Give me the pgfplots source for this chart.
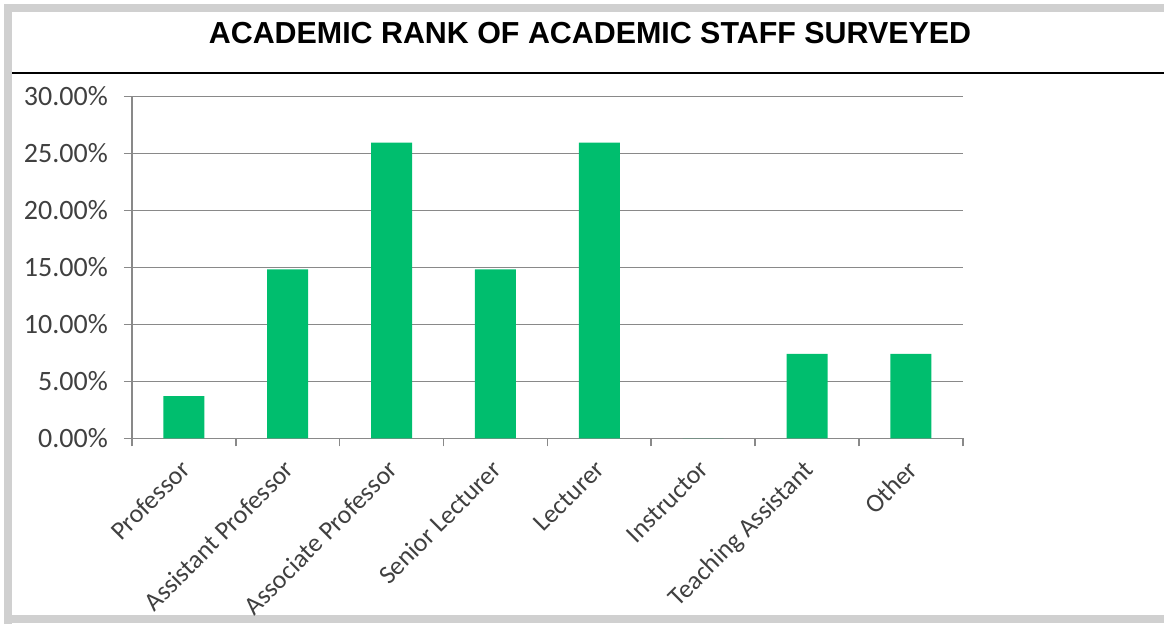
\documentclass[border=0pt]{standalone}
\usepackage{pgfplots}
\pgfplotsset{compat=1.18}
\usepackage{fontspec}
\setmainfont{Carlito}
\newfontfamily\titlefont{Liberation Sans}
\definecolor{barg}{HTML}{00BE6E}
\definecolor{gridg}{HTML}{898989}
\definecolor{txtg}{HTML}{404040}
\definecolor{frameg}{HTML}{D0D0D0}
\begin{document}
\begin{tikzpicture}[x=0.5pt,y=0.5pt]
\useasboundingbox (0,0) rectangle (1164,623);
\draw[frameg, line width=4pt] (8,-10) -- (8,615) -- (1180,615);
\draw[frameg, line width=4pt] (8,4.5) -- (1180,4.5);
\draw[black, line width=0.8pt] (12,550) -- (1164,550);
\node[font=\titlefont\bfseries\fontsize{15.2}{17}\selectfont] at (590,590) {ACADEMIC RANK OF ACADEMIC STAFF SURVEYED};
\begin{axis}[
  at={(176.94,162)}, anchor=origin,
  scale only axis, width=415.5pt, height=171pt,
  xmin=-0.5, xmax=7.5, ymin=0, ymax=30,
  ybar, bar width=20.5pt,
  axis x line*=bottom, axis y line*=left,
  axis line style={gridg, line width=0.8pt},
  ytick={0,5,10,15,20,25,30},
  yticklabels={0.00\%,5.00\%,10.00\%,15.00\%,20.00\%,25.00\%,30.00\%},
  ymajorgrids, grid style={gridg, line width=0.8pt},
  xtick={0,...,7},
  xticklabels={Professor,Assistant Professor,Associate Professor,Senior Lecturer,Lecturer,Instructor,Teaching Assistant,Other},
  minor xtick={-0.5,0.5,...,7.5},
  tick align=outside,
  major tick length=4pt,
  x tick style={draw=none},
  minor x tick style={draw=gridg, line width=0.8pt},
  minor tick length=4pt,
  y tick style={gridg, line width=0.8pt},
  x tick label style={font=\fontsize{13}{15}\selectfont, text=txtg, rotate=45, anchor=north east, inner sep=1pt, xshift=-5pt, yshift=-1.5pt},
  y tick label style={font=\fontsize{14}{16}\selectfont, text=txtg, xshift=-4.5pt},
  clip=false,
]
\addplot[fill=barg, draw=none] coordinates {(0,3.70) (1,14.81) (2,25.93) (3,14.81) (4,25.93) (5,0) (6,7.41) (7,7.41)};
\end{axis}
\end{tikzpicture}
\end{document}
